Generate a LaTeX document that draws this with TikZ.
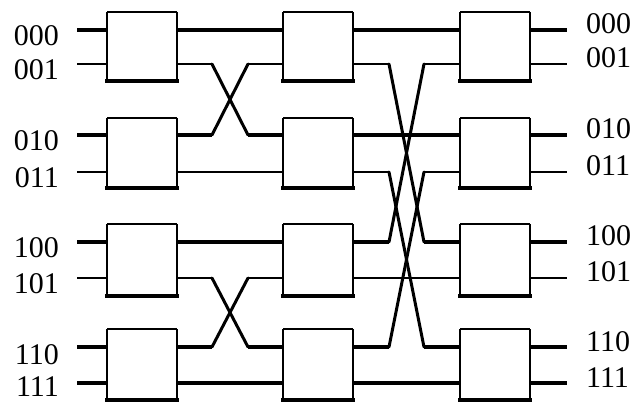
\documentclass[tikz,border=0pt]{standalone}
\usepackage{fontspec}
\setmainfont{Liberation Serif}
\usetikzlibrary{calc}
\begin{document}
\begin{tikzpicture}[x=1pt,y=-1pt,
  sw/.style={draw=none,minimum width=70pt,minimum height=70pt,inner sep=0pt,outer sep=0pt,anchor=north west},
  thk/.style={line width=3.2pt},
  thn/.style={line width=1.6pt},
  dia/.style={line width=3pt,line cap=round},
  lab/.style={inner sep=0pt,font=\fontsize{30}{30}\selectfont},
]
\useasboundingbox (0,0) rectangle (637,403);
% wire rows
\foreach \n/\y in {0/30,1/64,2/135,3/172,4/242,5/278,6/347,7/383} {\coordinate (y\n) at (0,\y);}
% crossing bends
\foreach \n/\y in {0/30,1/64,2/135,3/172,4/242,5/278,6/347,7/383} {
  \coordinate (p\n) at (212,\y); \coordinate (q\n) at (248,\y);
  \coordinate (s\n) at (389,\y); \coordinate (t\n) at (424,\y);
}
% boxes
\foreach \c/\x in {1/107,2/283,3/460} {
  \foreach \r/\t/\h in {1/12/69,2/118/70,3/224/72,4/329/71} {
    \node[sw,minimum height=\h pt] (b\c\r) at (\x,\t) {};
  }
}
% wires: inputs
\draw[thk] (77,30) coordinate (i0) -- (b11.west |- y0);
\draw[thn] (77,64) coordinate (i1) -- (b11.west |- y1);
\draw[thk] (77,135) coordinate (i2) -- (b12.west |- y2);
\draw[thn] (77,172) coordinate (i3) -- (b12.west |- y3);
\draw[thk] (77,242) coordinate (i4) -- (b13.west |- y4);
\draw[thn] (77,278) coordinate (i5) -- (b13.west |- y5);
\draw[thk] (77,347) coordinate (i6) -- (b14.west |- y6);
\draw[thk] (77,383) coordinate (i7) -- (b14.west |- y7);
% outputs
\draw[thk] (b31.east |- y0) -- (567,30) coordinate (o0);
\draw[thn] (b31.east |- y1) -- (567,64) coordinate (o1);
\draw[thk] (b32.east |- y2) -- (567,135) coordinate (o2);
\draw[thn] (b32.east |- y3) -- (567,172) coordinate (o3);
\draw[thk] (b33.east |- y4) -- (567,242) coordinate (o4);
\draw[thn] (b33.east |- y5) -- (567,278) coordinate (o5);
\draw[thk] (b34.east |- y6) -- (567,347) coordinate (o6);
\draw[thk] (b34.east |- y7) -- (567,383) coordinate (o7);
% stage 1 -> 2 straight
\draw[thk] (b11.east |- y0) -- (b21.west |- y0);
\draw[thn] (b12.east |- y3) -- (b22.west |- y3);
\draw[thk] (b13.east |- y4) -- (b23.west |- y4);
\draw[thk] (b14.east |- y7) -- (b24.west |- y7);
% stage 1 -> 2 crossings
\draw[thn] (b11.east |- y1) -- (p1);  \draw[thn] (q1) -- (b21.west |- y1);
\draw[thk] (b12.east |- y2) -- (p2);  \draw[thk] (q2) -- (b22.west |- y2);
\draw[thn] (b13.east |- y5) -- (p5);  \draw[thn] (q5) -- (b23.west |- y5);
\draw[thk] (b14.east |- y6) -- (p6);  \draw[thk] (q6) -- (b24.west |- y6);
\draw[dia] (p1) -- (q2); \draw[dia] (p2) -- (q1);
\draw[dia] (p5) -- (q6); \draw[dia] (p6) -- (q5);
% stage 2 -> 3 straight
\draw[thk] (b21.east |- y0) -- (b31.west |- y0);
\draw[thk] (b22.east |- y2) -- (b32.west |- y2);
\draw[thn] (b23.east |- y5) -- (b33.west |- y5);
\draw[thk] (b24.east |- y7) -- (b34.west |- y7);
% stage 2 -> 3 crossings
\draw[thn] (b21.east |- y1) -- (s1);  \draw[thn] (t1) -- (b31.west |- y1);
\draw[thn] (b22.east |- y3) -- (s3);  \draw[thn] (t3) -- (b32.west |- y3);
\draw[thk] (b23.east |- y4) -- (s4);  \draw[thk] (t4) -- (b33.west |- y4);
\draw[thk] (b24.east |- y6) -- (s6);  \draw[thk] (t6) -- (b34.west |- y6);
\draw[dia] (s1) -- (t4); \draw[dia] (s3) -- (t6);
\draw[dia] (s4) -- (t1); \draw[dia] (s6) -- (t3);
% box outlines
\foreach \c in {1,2,3} {\foreach \r in {1,2,3,4} {
  \fill[white] (b\c\r.south west) rectangle (b\c\r.north east);
  \draw[line width=1.5pt] (b\c\r.north west) -- (b\c\r.north east);
  \draw[line width=2.3pt] (b\c\r.north east) -- (b\c\r.south east);
  \draw[line width=2.5pt] (b\c\r.north west) -- (b\c\r.south west);
  \draw[line width=3.2pt,line cap=rect] (b\c\r.south west) -- (b\c\r.south east);
}}
% labels
\foreach \n/\t/\y/\d in {0/000/30/16,1/001/64/16,2/010/135/16,3/011/172/16,4/100/242/16,5/101/278/16,6/110/347/17,7/111/383/13} {
  \node[lab,anchor=base east] (l\n) at (59,\y+\d) {\t};
  \node[lab,anchor=base west] (r\n) at (586,\y+4) {\t};
}
\end{tikzpicture}
\end{document}
